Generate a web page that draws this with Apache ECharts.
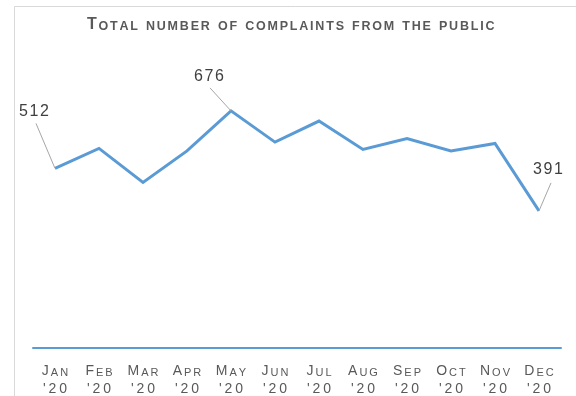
<!DOCTYPE html>
<html>
<head>
<meta charset="utf-8">
<script src="https://cdn.jsdelivr.net/npm/echarts@6/dist/echarts.min.js"></script>
<style>
  html, body { margin: 0; padding: 0; background: #fff; }
  #chart { width: 576px; height: 396px; }
</style>
</head>
<body>
<div id="chart"></div>
<script>
// Monthly complaint totals
const months = ['Jan', 'Feb', 'Mar', 'Apr', 'May', 'Jun', 'Jul', 'Aug', 'Sep', 'Oct', 'Nov', 'Dec'];
const yearTag = "'20";
const complaints = [512, 569, 472, 562, 676, 587, 647, 566, 597, 562, 583, 391];
const labelledMonths = [0, 4, 11];
const chartTitle = 'Total number of complaints from the public';

// Leader line end and label centre, relative to the point (px)
const calloutOffsets = {
  0: { line: [-19, -45], text: [-21, -57] },
  4: { line: [-21, -23], text: [-22, -34] },
  11: { line: [12, -28], text: [9, -41] }
};

// Small-caps with letter spacing: each character is its own rich token
function smallCaps(str, big, small, space) {
  return str.split('').map(function (ch) {
    if (ch === ' ') return '{' + space + '| }';
    const lower = ch !== ch.toUpperCase();
    return '{' + (lower ? small : big) + '|' + ch.toUpperCase() + '}';
  }).join('');
}

const chart = echarts.init(document.getElementById('chart'), null, { renderer: 'canvas' });

const grey = '#595959';
const font = 'Liberation Sans, Arial, sans-serif';

function tok(size, pad, lh, weight) {
  return {
    fontFamily: font, fontWeight: weight || 'normal', fontSize: size, color: grey,
    padding: [0, pad, 0, pad], lineHeight: lh, verticalAlign: 'bottom'
  };
}

chart.setOption({
  animation: false,
  backgroundColor: '#ffffff',
  title: {
    text: smallCaps(chartTitle, 'tb', 'ts', 'tsp'),
    left: 86,
    top: 13,
    padding: 0,
    textStyle: {
      rich: {
        tb: tok(16, 0.9, 20, 'bold'),
        ts: tok(12.5, 0.9, 20, 'bold'),
        tsp: tok(12.5, 1.4, 20, 'bold')
      }
    }
  },
  graphic: [{
    type: 'polyline',
    shape: { points: [[14.5, 396], [14.5, 6.5], [576, 6.5]] },
    style: { stroke: '#d9d9d9', lineWidth: 1, fill: null },
    silent: true
  }],
  grid: { left: 33, right: 15, top: 67.4, bottom: 47 },
  xAxis: {
    type: 'category',
    data: months,
    boundaryGap: true,
    axisLine: { show: true, lineStyle: { color: '#5B9BD5', width: 2 } },
    axisTick: { show: false },
    axisLabel: {
      margin: 12,
      interval: 0,
      formatter: function (m) {
        return smallCaps(m, 'mb', 'ms', 'mb') + '\n' + smallCaps(yearTag, 'yb', 'yb', 'yb');
      },
      rich: {
        mb: tok(14, 1, 18),
        ms: tok(11, 1, 18),
        yb: tok(14, 1.5, 18)
      }
    }
  },
  yAxis: {
    type: 'value',
    min: 0,
    max: 800,
    show: false,
    splitLine: { show: false }
  },
  series: [
    {
      type: 'line',
      data: complaints,
      symbol: 'none',
      lineStyle: { color: '#5B9BD5', width: 3, join: 'miter' },
      z: 2
    },
    {
      // Value callouts with leader lines
      type: 'custom',
      data: labelledMonths.map(function (i) { return [i, complaints[i]]; }),
      z: 3,
      renderItem: function (params, api) {
        const idx = api.value(0);
        const val = api.value(1);
        const p = api.coord([idx, val]);
        const off = calloutOffsets[idx];
        const digits = String(val).split('').map(function (d) { return '{d|' + d + '}'; }).join('');
        return {
          type: 'group',
          children: [
            {
              type: 'line',
              shape: { x1: p[0], y1: p[1], x2: p[0] + off.line[0], y2: p[1] + off.line[1] },
              style: { stroke: '#a6a6a6', lineWidth: 1 }
            },
            {
              type: 'text',
              x: p[0] + off.text[0],
              y: p[1] + off.text[1],
              style: {
                text: digits,
                align: 'center',
                verticalAlign: 'middle',
                rich: {
                  d: { fontFamily: font, fontSize: 16, fill: '#404040', padding: [0, 0.8, 0, 0.8] }
                }
              }
            }
          ]
        };
      }
    }
  ]
});
</script>
</body>
</html>
